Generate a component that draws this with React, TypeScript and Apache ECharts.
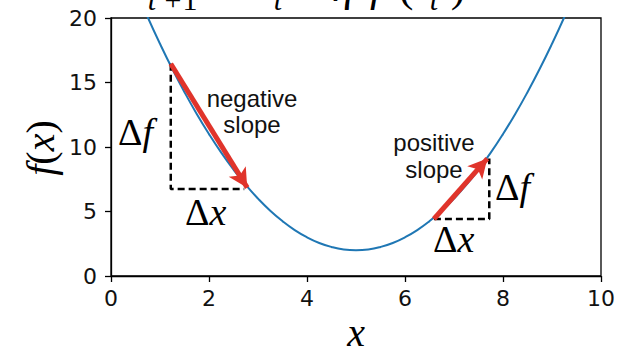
import React, { useEffect, useRef } from "react";
import * as echarts from "echarts";

// Curve samples: f(x) read along the plotted parabola
const curveX = [
  0.5, 0.75, 1, 1.25, 1.5, 1.75, 2, 2.25, 2.5, 2.75, 3, 3.25, 3.5, 3.75, 4, 4.25, 4.5, 4.75, 5,
  5.25, 5.5, 5.75, 6, 6.25, 6.5, 6.75, 7, 7.25, 7.5, 7.75, 8, 8.25, 8.5, 8.75, 9, 9.25, 9.5,
];
const curveF = [
  22.25, 20.06, 18, 16.06, 14.25, 12.56, 11, 9.56, 8.25, 7.06, 6, 5.06, 4.25, 3.56, 3, 2.56, 2.25, 2.06, 2,
  2.06, 2.25, 2.56, 3, 3.56, 4.25, 5.06, 6, 7.06, 8.25, 9.56, 11, 12.56, 14.25, 16.06, 18, 20.06, 22.25,
];

// Step arrows (start, end) on each side of the minimum
const negArrow = [[1.22, 16.45], [2.78, 6.85]];
const posArrow = [[6.59, 4.42], [7.68, 9.1]];

// Dashed Δf / Δx legs of the slope triangles
const negLegs = [[1.22, 16.45], [1.22, 6.75], [2.72, 6.75]];
const posLegs = [[6.59, 4.42], [7.72, 4.42], [7.72, 9.1]];

const xTicks = { min: 0, max: 10, step: 2 };
const yTicks = { min: 0, max: 20, step: 5 };

const SERIF = "Liberation Serif, DejaVu Serif, serif";
const SANS = "Liberation Sans, Arial, sans-serif";
const TICK_FONT = "DejaVu Sans, sans-serif";
const RED = "#e0342b";
const BLUE = "#1f77b4";

const mathRich = (fs: number) => ({
  u: { fontFamily: SERIF, fontSize: fs, color: "#000", fontStyle: "normal", fontWeight: "normal" },
  i: { fontFamily: SERIF, fontSize: fs, color: "#000", fontStyle: "italic", fontWeight: "normal" },
});

function mathText(x: number, y: number, text: string, fs: number, align = "left", rotation = 0) {
  return {
    type: "text",
    x,
    y,
    rotation,
    style: {
      text,
      align,
      verticalAlign: "middle",
      fontFamily: SERIF,
      fontSize: fs,
      fill: "#000",
      rich: mathRich(fs),
    },
  };
}

function glyph(x: number, y: number, text: string, fs: number, italic: boolean) {
  return {
    type: "text",
    x,
    y,
    style: {
      text,
      align: "center",
      verticalAlign: "middle",
      fontFamily: SERIF,
      fontSize: fs,
      fontStyle: italic ? "italic" : "normal",
      fill: "#000",
    },
  };
}

export default function App() {
  const ref = useRef<HTMLDivElement>(null);

  useEffect(() => {
    if (!ref.current) return;
    const chart = echarts.init(ref.current, undefined, { renderer: "svg" });

    // heading sits mostly above the canvas; only descenders show
    const mainY = -18;
    const subY = -1;

    chart.setOption({
      animation: false,
      backgroundColor: "#ffffff",
      grid: {
        left: 111,
        top: 18,
        width: 490,
        height: 258,
        show: true,
        borderColor: "#000",
        borderWidth: 1.3,
        backgroundColor: "transparent",
      },
      xAxis: {
        type: "value",
        min: xTicks.min,
        max: xTicks.max,
        interval: xTicks.step,
        splitLine: { show: false },
        axisLine: { lineStyle: { color: "#000", width: 1.3 } },
        axisTick: { show: true, inside: false, length: 6, lineStyle: { color: "#000", width: 1.3 } },
        axisLabel: { margin: 11, color: "#111", fontFamily: TICK_FONT, fontSize: 22 },
      },
      yAxis: {
        type: "value",
        min: yTicks.min,
        max: yTicks.max,
        interval: yTicks.step,
        splitLine: { show: false },
        axisLine: { show: true, lineStyle: { color: "#000", width: 1.3 } },
        axisTick: { show: true, inside: false, length: 6, lineStyle: { color: "#000", width: 1.3 } },
        axisLabel: { margin: 14, color: "#111", fontFamily: TICK_FONT, fontSize: 22 },
      },
      series: [
        {
          type: "line",
          data: curveX.map((x, i) => [x, curveF[i]]),
          smooth: 0.5,
          showSymbol: false,
          clip: true,
          lineStyle: { color: BLUE, width: 2 },
          z: 2,
        },
        {
          type: "line",
          data: negLegs,
          showSymbol: false,
          lineStyle: { color: "#000", width: 2.5, type: [7, 4] },
          z: 3,
        },
        {
          type: "line",
          data: posLegs,
          showSymbol: false,
          lineStyle: { color: "#000", width: 2.5, type: [7, 4] },
          z: 3,
        },
        {
          type: "scatter",
          data: [],
          z: 4,
          markLine: {
            silent: true,
            symbol: ["none", "arrow"],
            symbolSize: [15, 19],
            label: { show: false },
            lineStyle: { color: RED, width: 5, type: "solid" },
            emphasis: { disabled: true },
            data: [
              [{ coord: negArrow[0] }, { coord: negArrow[1] }],
              [{ coord: posArrow[0] }, { coord: posArrow[1] }],
            ],
          },
        },
      ],
      graphic: [
        // update rule heading, clipped at the top edge
        glyph(130, mainY, "x", 44, true),
        glyph(152, subY, "t", 30, true),
        glyph(173, subY, "+", 30, false),
        glyph(190, subY, "1", 30, false),
        glyph(230, mainY, "=", 44, false),
        glyph(262, mainY, "x", 44, true),
        glyph(278, subY, "t", 30, true),
        glyph(310, mainY, "−", 44, false),
        glyph(343, mainY + 4, "η", 44, true),
        glyph(376, mainY + 4, "f", 44, true),
        glyph(389, mainY, "′", 30, false),
        glyph(406, mainY + 4, "(", 44, false),
        glyph(421, mainY, "x", 44, true),
        glyph(434, subY, "t", 30, true),
        glyph(458, mainY + 4, ")", 44, false),
        // axis titles
        mathText(40.7, 148, "{i|f}{u|(}{i|x}{u|)}", 40, "center", Math.PI / 2),
        mathText(356, 332.5, "{i|x}", 40, "center"),
        // slope triangle labels
        mathText(118, 132.2, "{u|Δ}{i|f}", 38),
        mathText(185, 212.2, "{u|Δ}{i|x}", 38),
        mathText(495, 187.2, "{u|Δ}{i|f}", 38),
        mathText(433, 239.2, "{u|Δ}{i|x}", 38),
        {
          type: "text",
          x: 252,
          y: 111.7,
          style: {
            text: "negative\nslope",
            align: "center",
            verticalAlign: "middle",
            fontFamily: SANS,
            fontSize: 24,
            lineHeight: 26,
            fill: "#111",
          },
        },
        {
          type: "text",
          x: 434,
          y: 156.4,
          style: {
            text: "positive\nslope",
            align: "center",
            verticalAlign: "middle",
            fontFamily: SANS,
            fontSize: 24,
            lineHeight: 27,
            fill: "#111",
          },
        },
      ],
    });

    return () => chart.dispose();
  }, []);

  return (
    <div
      ref={ref}
      style={{ position: "fixed", left: 0, top: 0, width: 624, height: 347, background: "#fff" }}
    />
  );
}
